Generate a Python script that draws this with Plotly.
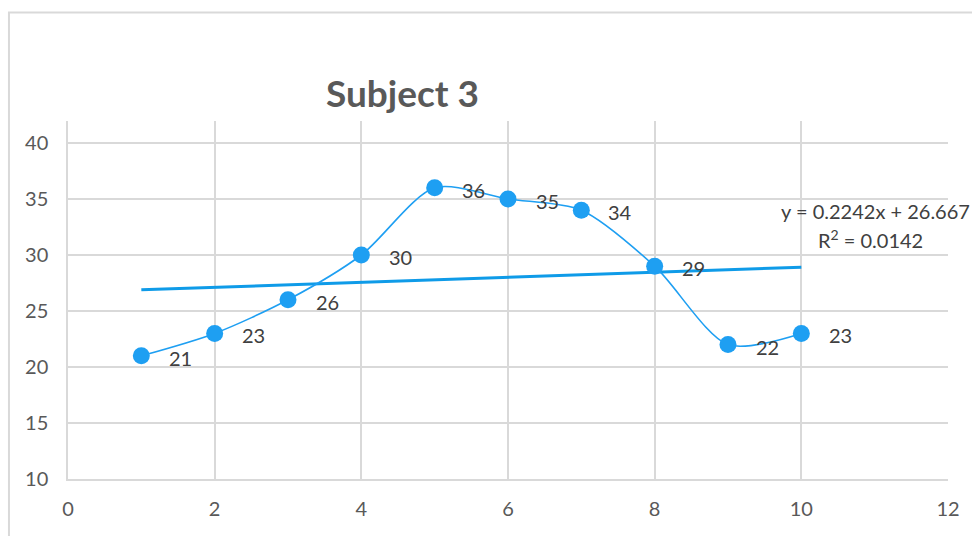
import plotly.graph_objects as go

# Session scores for Subject 3
sessions = [1, 2, 3, 4, 5, 6, 7, 8, 9, 10]
scores = [21, 23, 26, 30, 36, 35, 34, 29, 22, 23]

# Linear trend (least squares) and its fit statistic
slope = 0.2242
intercept = 26.667
r_squared = 0.0142
trend_x = [sessions[0], sessions[-1]]
trend_y = [slope * x + intercept for x in trend_x]

x_ticks = [0, 2, 4, 6, 8, 10, 12]
y_ticks = [10, 15, 20, 25, 30, 35, 40]

BLUE = "#1E9FF2"
TEXT = "#404040"
TICK = "#595959"
GRID = "#D9D9D9"
FONT = "Lato"

fig = go.Figure()

fig.add_trace(go.Scatter(
    x=trend_x, y=trend_y, mode="lines",
    line=dict(color="#0F9BE8", width=3),
    hoverinfo="skip", showlegend=False,
))

fig.add_trace(go.Scatter(
    x=sessions, y=scores, mode="lines+markers",
    line=dict(color=BLUE, width=1.6, shape="spline", smoothing=0.8),
    marker=dict(color=BLUE, size=17, line=dict(width=0)),
    showlegend=False,
))

# Value labels beside each point
for x, y in zip(sessions, scores):
    fig.add_annotation(
        x=x, y=y, text=str(y), showarrow=False,
        xanchor="center", yanchor="middle", xshift=39, yshift=-2,
        font=dict(family=FONT, size=20, color=TEXT),
    )

# Trendline equation
fig.add_annotation(
    x=1.0, y=(479 - 211) / 358, xref="paper", yref="paper",
    text=f"y = {slope}x + {intercept}", showarrow=False,
    xanchor="right", yanchor="middle", xshift=24,
    font=dict(family=FONT, size=20, color=TEXT),
)
fig.add_annotation(
    x=1.0, y=(479 - 239) / 358, xref="paper", yref="paper",
    text=f"R<sup>2</sup> = {r_squared}", showarrow=False,
    xanchor="center", yanchor="middle", xshift=-78,
    font=dict(family=FONT, size=20, color=TEXT),
)

# Title
fig.add_annotation(
    x=(405 - 68) / 887, y=(479 - 93) / 358, xref="paper", yref="paper",
    text="<b>Subject 3</b>", showarrow=False,
    xanchor="center", yanchor="middle",
    font=dict(family=FONT, size=37, color="#595959"),
)

# Chart area border
fig.add_shape(
    type="rect", xref="paper", yref="paper",
    x0=(8.5 - 68) / 887, x1=(990 - 68) / 887,
    y0=(479 - 560) / 358, y1=(479 - 12.5) / 358,
    line=dict(color=GRID, width=2), fillcolor="rgba(0,0,0,0)", layer="below",
)

fig.update_layout(
    width=972, height=536,
    margin=dict(l=68, r=17, t=121, b=57),
    paper_bgcolor="white", plot_bgcolor="white",
    font=dict(family=FONT, color=TEXT),
    xaxis=dict(
        range=[0, 12], tickvals=x_ticks, showgrid=True, gridcolor=GRID, gridwidth=1.5,
        zeroline=False, showline=True, linecolor=GRID, linewidth=1.5, mirror=False,
        ticks="", ticklabelstandoff=11, tickfont=dict(family=FONT, size=20, color=TICK),
    ),
    yaxis=dict(
        range=[10, 40 + 22 / 11.2], tickvals=y_ticks, showgrid=True, gridcolor=GRID, gridwidth=1.5,
        zeroline=False, showline=True, linecolor=GRID, linewidth=1.5,
        ticks="", ticklabelstandoff=14, tickfont=dict(family=FONT, size=20, color=TICK),
    ),
)

fig.write_html("out.html")
